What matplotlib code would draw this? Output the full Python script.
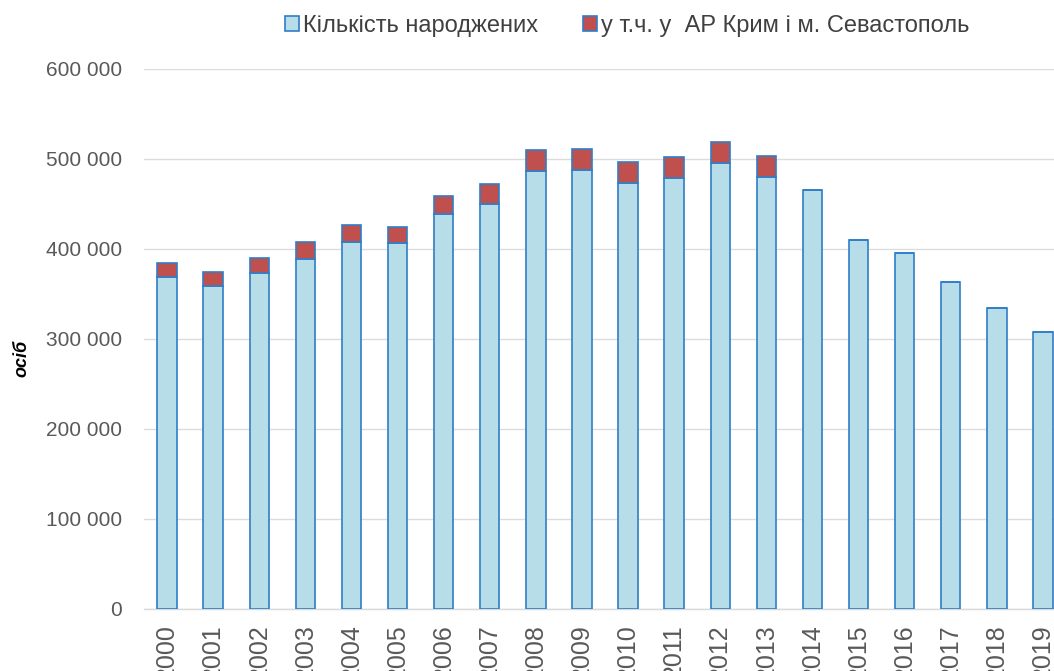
import matplotlib
matplotlib.use("Agg")
import matplotlib.pyplot as plt
from matplotlib.patches import Patch
from matplotlib.ticker import FuncFormatter, MultipleLocator

years = [str(y) for y in range(2000, 2020)]
births_total = [384100, 374800, 389600, 407800, 426300, 424800, 458900, 472200,
                510400, 511500, 497000, 502600, 519300, 503700,
                465600, 410300, 395900, 363000, 334800, 308100]
crimea = [15500, 15600, 15900, 18600, 18500, 18500, 19600, 22200,
          23700, 23700, 23300, 24100, 23400, 23700,
          0, 0, 0, 0, 0, 0]
births_excl = [t - c for t, c in zip(births_total, crimea)]

legend_labels = ["Кількість народжених", "у т.ч. у  АР Крим і м. Севастополь"]
y_label = "осіб"

fonts = ['Liberation Sans', 'DejaVu Sans']
plt.rcParams['font.family'] = fonts

light = '#B7DDE8'
red = '#C0504D'
edge = '#2F7EC7'
txt = '#595959'

fig = plt.figure(figsize=(10.54, 6.71), dpi=100)
ax = fig.add_axes([144/1054, 62/671, 922/1054, 540/671])

x = range(len(years))
w = 0.42
ax.bar(x, births_excl, width=w, color=light, edgecolor=edge, linewidth=1.2, zorder=3)
ax.bar(x, crimea, width=w, bottom=births_excl, color=red, edgecolor=edge,
       linewidth=1.2, zorder=3)

ax.set_xlim(-0.5, len(years) - 0.5)
ax.set_ylim(0, 600000)
ax.yaxis.set_major_locator(MultipleLocator(100000))
ax.yaxis.set_major_formatter(FuncFormatter(lambda v, p: f"{int(v):,}".replace(",", " ")))
ax.grid(axis='y', color='#DCDCDC', linewidth=1.0, zorder=0)
ax.set_xticks(list(x))
ax.set_xticklabels(years, rotation=90)
ax.tick_params(axis='both', length=0, colors=txt)
ax.tick_params(axis='y', pad=16, labelsize=15)
ax.tick_params(axis='x', pad=11, labelsize=18)
for s in ['top', 'right', 'left']:
    ax.spines[s].set_visible(False)
ax.spines['bottom'].set_color('#D9D9D9')
ax.spines['bottom'].set_linewidth(1.0)

fig.text(0.021, (671-358)/671, y_label, rotation=90, fontsize=13, fontweight='bold',
         fontstyle='italic', color='black', ha='center', va='center')

handles = [Patch(facecolor=light, edgecolor=edge, linewidth=1.2),
           Patch(facecolor=red, edgecolor=edge, linewidth=1.2)]
fig.legend(handles, legend_labels, ncol=2, loc='center', bbox_to_anchor=(627/1054, (671-26)/671),
           frameon=False, fontsize=17, handlelength=0.6, handleheight=0.6,
           handletextpad=0.15, columnspacing=1.9, labelcolor='#404040')

fig.savefig('out.png', dpi=100)
